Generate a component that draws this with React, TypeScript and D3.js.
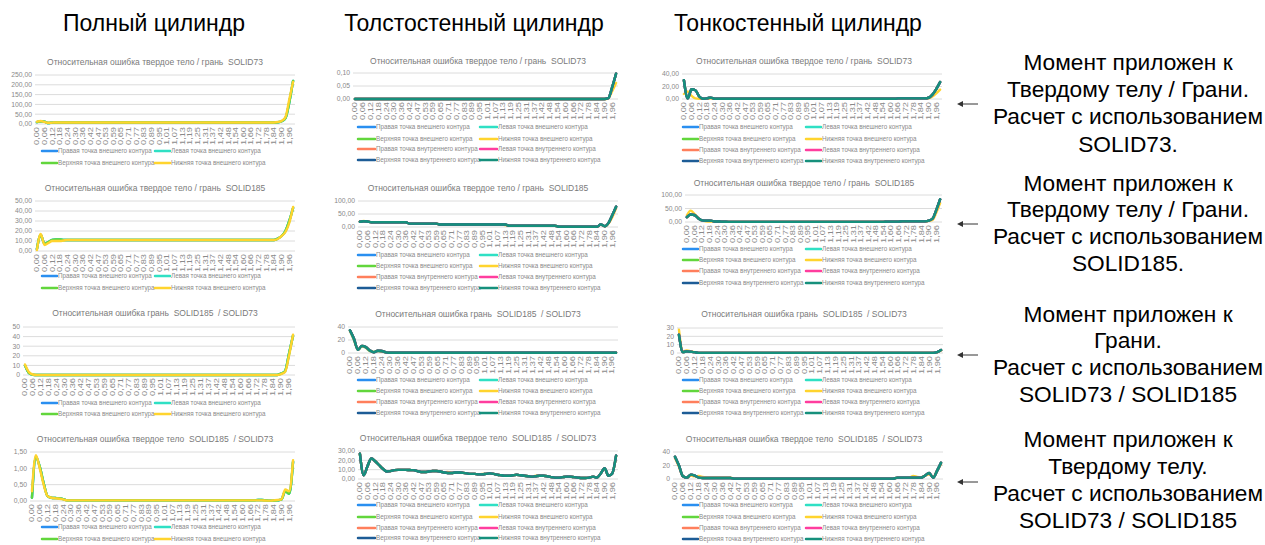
import React from 'react';
import * as d3 from 'd3';

// ---------- categories (x axis) ----------
const CATEGORIES = [
  '0,00','0,03','0,06','0,09','0,12','0,15','0,18','0,21','0,24','0,27',
  '0,30','0,33','0,36','0,39','0,42','0,45','0,47','0,50','0,53','0,56',
  '0,59','0,62','0,65','0,68','0,71','0,74','0,77','0,80','0,83','0,86',
  '0,89','0,92','0,95','0,98','1,01','1,04','1,07','1,10','1,13','1,16',
  '1,19','1,22','1,25','1,28','1,31','1,34','1,37','1,39','1,42','1,45',
  '1,48','1,51','1,54','1,57','1,60','1,63','1,66','1,69','1,72','1,75',
  '1,78','1,81','1,84','1,87','1,90','1,93','1,96','1,99',
];

// ---------- series names ----------
const OUTER_NAMES = [
  'Правая точка внешнего контура',
  'Левая точка внешнего контура',
  'Верхняя точка внешнего контура',
  'Нижняя точка внешнего контура',
];
const INNER_NAMES = [
  'Правая точка внутреннего контура',
  'Левая точка внутреннего контура',
  'Верхняя точка внутреннего контура',
  'Нижняя точка внутреннего контура',
];
const SERIES_COLORS = ['#2a8ff0', '#2fe0c4', '#62d63c', '#ffd42e', '#ff7f5c', '#ff3d9e', '#1d5c96', '#16907c'];

// ---------- column headers / notes ----------
const HEADERS = ['Полный цилиндр', 'Толстостенный цилиндр', 'Тонкостенный цилиндр'];
const NOTES = [
  ['Момент приложен к', 'Твердому телу / Грани.', 'Расчет с использованием', 'SOLID73.'],
  ['Момент приложен к', 'Твердому телу / Грани.', 'Расчет с использованием', 'SOLID185.'],
  ['Момент приложен к', 'Грани.', 'Расчет с использованием', 'SOLID73 / SOLID185'],
  ['Момент приложен к', 'Твердому телу.', 'Расчет с использованием', 'SOLID73 / SOLID185'],
];
const TITLES = [
  'Относительная ошибка твердое тело / грань  SOLID73',
  'Относительная ошибка твердое тело / грань  SOLID185',
  'Относительная ошибка грань  SOLID185  / SOLID73',
  'Относительная ошибка твердое тело  SOLID185  / SOLID73',
];

// ---------- data: full cylinder ----------
const FULL_R1_LOWER = [12,15,10,6,7,
  8,8,8,8,8,8,8,8,8,8, 8,8,8,8,8,8,8,8,8,8, 8,8,8,8,8,8,8,8,8,8,
  8,8,8,8,8,8,8,8,8,8, 8,8,8,8,8,8,8,8,8,8, 8,8,8,8,8,8,8,8,
  10,16,35,125,215];
const FULL_R1_OTHER = [10,14,12,5,7,
  8,8,8,8,8,8,8,8,8,8, 8,8,8,8,8,8,8,8,8,8, 8,8,8,8,8,8,8,8,8,8,
  8,8,8,8,8,8,8,8,8,8, 8,8,8,8,8,8,8,8,8,8, 8,8,8,8,8,8,8,8,
  9,14,30,110,220];

const FULL_R2_LOWER = [1,17,6,8,10,10,10,10.5,
  11,11,11,11,11,11,11,11,11,11, 11,11,11,11,11,11,11,11,11,11, 11,11,11,11,11,11,11,11,11,11,
  11,11,11,11,11,11,11,11,11,11, 11,11,11,11,11,11,11,11,11,11, 11,11,11,11,11,
  12,15,19,28,44];
const FULL_R2_OTHER = [2,16,7,9,11,11.5,11.5,11,
  11,11,11,11,11,11,11,11,11,11, 11,11,11,11,11,11,11,11,11,11, 11,11,11,11,11,11,11,11,11,11,
  11,11,11,11,11,11,11,11,11,11, 11,11,11,11,11,11,11,11,11,11, 11,11,11,11,11,
  12.5,15,20,30,43];

const FULL_R3_LOWER = [11,3,0.5,
  0,0,0,0,0,0,0,0,0,0, 0,0,0,0,0,0,0,0,0,0, 0,0,0,0,0,0,0,0,0,0,
  0,0,0,0,0,0,0,0,0,0, 0,0,0,0,0,0,0,0,0,0, 0,0,0,0,0,0,0,0,0,0, 0,
  1,3,20,42];
const FULL_R3_OTHER = [10,2,0.3,
  0,0,0,0,0,0,0,0,0,0, 0,0,0,0,0,0,0,0,0,0, 0,0,0,0,0,0,0,0,0,0,
  0,0,0,0,0,0,0,0,0,0, 0,0,0,0,0,0,0,0,0,0, 0,0,0,0,0,0,0,0,0,0, 0,
  1.5,4,22,41];

const FULL_R4_LOWER = [0.3,1.4,1.0,0.5,0.15,0.1,0.08,0.07,0.05,
  0.02,0.02,0.02,0.02,0.02,0.02,0.02,0.02,0.02,0.02, 0.02,0.02,0.02,0.02,0.02,0.02,0.02,0.02,0.02,0.02,
  0.02,0.02,0.02,0.02,0.02,0.02,0.02,0.02,0.02,0.02, 0.02,0.02,0.02,0.02,0.02,0.02,0.02,0.02,0.02,0.02,
  0.02,0.02,0.02,0.02,0.02,0.02,0.02,0.02,0.02,
  0.02,0.02,0.01,0.01,0.02,0.03,0.05,0.35,0.3,1.25];
const FULL_R4_OTHER = [0.1,1.35,1.05,0.55,0.15,0.1,0.09,0.08,0.06,
  0.02,0.02,0.02,0.02,0.02,0.02,0.02,0.02,0.02,0.02, 0.02,0.02,0.02,0.02,0.02,0.02,0.02,0.02,0.02,0.02,
  0.02,0.02,0.02,0.02,0.02,0.02,0.02,0.02,0.02,0.02, 0.02,0.02,0.02,0.02,0.02,0.02,0.02,0.02,0.02,0.02,
  0.02,0.02,0.02,0.02,0.02,0.02,0.02,0.02,0.02,
  0.03,0.03,0.02,0.01,0.01,0.02,0.04,0.3,0.22,1.2];

// ---------- data: thick-walled cylinder ----------
const THICK_R1_MAIN = [
  0,0,0,0,0,0,0,0,0,0, 0,0,0,0,0,0,0,0,0,0, 0,0,0,0,0,0,0,0,0,0,
  0,0,0,0,0,0,0,0,0,0, 0,0,0,0,0,0,0,0,0,0, 0,0,0,0,0,0,0,0,0,0,
  0,0,0,0,0, 0.003,0.045,0.097];
const THICK_R1_LOWER = [
  0,0,0,0,0,0,0,0,0,0, 0,0,0,0,0,0,0,0,0,0, 0,0,0,0,0,0,0,0,0,0,
  0,0,0,0,0,0,0,0,0,0, 0,0,0,0,0,0,0,0,0,0, 0,0,0,0,0,0,0,0,0,0,
  0,0,0,0,0, 0.002,0.03,0.062];

const THICK_R2_MAIN = [20,22,21,
  18,18,18,18,18,18,18,18,18,18,
  13,13,13,13,13,13,13,13,
  9.5,9.5,9.5,9.5,9.5,9.5,9.5,9.5,9.5,9.5,9.5,9.5,9.5,9.5,9.5,9.5,9.5,9.5,
  5,5,5,5,5,5,5,5,5,5,5,5,5,
  1,1,1,1,1,1,1,1,1,1,1,
  10,3,15,45,78];
const THICK_R2_LOWER = [21,23,21,
  18,18,18,18,18,18,18,18,18,18,
  13,13,13,13,13,13,13,13,
  9.5,9.5,9.5,9.5,9.5,9.5,9.5,9.5,9.5,9.5,9.5,9.5,9.5,9.5,9.5,9.5,9.5,7,
  5,5,5,5,5,5,5,5,5,5,5,5,5,
  1,1,1,1,1,1,1,1,1,1,1,
  9,3,13,38,72];

const THICK_R3_MAIN = [35,22,5,11,9,4,1,3.5,3,1,
  0.3,0.3,0.3,0.3,0.3,0.3,0.3,0.3,0.3,0.3, 0.3,0.3,0.3,0.3,0.3,0.3,0.3,0.3,0.3,0.3,
  0.3,0.3,0.3,0.3,0.3,0.3,0.3,0.3,0.3,0.3, 0.3,0.3,0.3,0.3,0.3,0.3,0.3,0.3,0.3,0.3,
  0.3,0.3,0.3,0.3,0.3,0.3,0.3,0.3,0.3,0.3, 0.3,0.3,0.3,0.3,0.3,0.3,0.3,0.3];
const THICK_R3_UPPER = [34,20,5,10,8,3,2,3,2,1,
  0.3,0.3,0.3,0.3,0.3,0.3,0.3,0.3,0.3,0.3, 0.3,0.3,0.3,0.3,0.3,0.3,0.3,0.3,0.3,0.3,
  0.3,0.3,0.3,0.3,0.3,0.3,0.3,0.3,0.3,0.3, 0.3,0.3,0.3,0.3,0.3,0.3,0.3,0.3,0.3,0.3,
  0.3,0.3,0.3,0.3,0.3,0.3,0.3,0.3,0.3,0.3, 0.3,0.3,0.3,0.3,0.3,0.3,0.3,0.3];

const THICK_R4_MAIN = [27,4,14,22,19,15,11,8,8.5,9.5,
  9.8,9.8,9.8,9.6,9.5,8.5,7.5,7.5,8,8.5,
  8.5,8,7,6.5,6.5,7,7,6.5,6,5.5,
  5.5,5,5,5.5,6,5.5,4.5,4,3.5,3.5,
  4,4.5,4,3.5,3,2.5,3,3.5,3.5,3,
  2,1.5,1.5,2,2.5,2.5,2,1.5,1,1,
  1.5,2.5,1.5,6,11.5,3.5,6,25];
const THICK_R4_LOWER = [27,4,14,22,19,15,11,8,8.5,9.5,
  9.8,9.8,9.8,9.6,9.5,8.5,7.5,7.5,8,8.5,
  8.5,8,7,7.5,6.5,7,7,6.5,6,5.5,
  5.5,5,5.5,5.5,6,5.5,4.5,4,3.5,3.5,
  4,4.5,4,3.5,3,2.5,3.5,3.5,3.5,3,
  2,1.5,1.5,2,2.5,2.5,2,1.5,1,1,
  1.5,2.5,1.5,6,11,3.5,6,24];

// ---------- data: thin-walled cylinder ----------
const THIN_R1_MAIN = [30,1,15.5,14,4,0.5,1,2.2,0.5,
  0.3,0.3,0.3,0.3,0.3,0.3,0.3,0.3,0.3,0.3, 0.3,0.3,0.3,0.3,0.3,0.3,0.3,0.3,0.3,0.3,
  0.3,0.3,0.3,0.3,0.3,0.3,0.3,0.3,0.3,0.3, 0.3,0.3,0.3,0.3,0.3,0.3,0.3,0.3,0.3,0.3,
  0.3,0.3,0.3,0.3,0.3,0.3,0.3,
  1,1,1,1,1,1,1,1,
  2,7,16,27];
const THIN_R1_LOWER = [8,12,5,1,0.5,0.5,0.5,1,0.5,
  0.3,0.3,0.3,0.3,0.3,0.3,0.3,0.3,0.3,0.3, 0.3,0.3,0.3,0.3,0.3,0.3,0.3,0.3,0.3,0.3,
  0.3,0.3,0.3,0.3,0.3,0.3,0.3,0.3,0.3,0.3, 0.3,0.3,0.3,0.3,0.3,0.3,0.3,0.3,0.3,0.3,
  0.3,0.3,0.3,0.3,0.3,0.3,0.3,
  0.8,0.8,0.8,0.8,0.8,0.8,0.8,0.8,
  1,4,9,15];

const THIN_R2_MAIN = [18,28,26,14,6,5,5,3,2,1.5,1,
  0.5,0.5,0.5,0.5,0.5,0.5,0.5,0.5,0.5,0.5, 0.5,0.5,0.5,0.5,0.5,0.5,0.5,0.5,0.5,0.5,
  0.5,0.5,0.5,0.5,0.5,0.5,0.5,0.5,0.5,0.5, 0.5,0.5,0.5,0.5,0.5,0.5,0.5,0.5,0.5,0.5,
  0.5,0.5,
  1.5,1.5,1.5,1.5,
  2.5,2.5,2.5,2.5,2.5,2.5,2.5,
  5,12,45,84];
const THIN_R2_LOWER = [25,42,30,15,5,3,2,2,1.5,1,1,
  0.5,0.5,0.5,0.5,0.5,0.5,0.5,0.5,0.5,0.5, 0.5,0.5,0.5,0.5,0.5,0.5,0.5,0.5,0.5,0.5,
  0.5,0.5,0.5,0.5,0.5,0.5,0.5,0.5,0.5,0.5, 0.5,0.5,0.5,0.5,0.5,0.5,0.5,0.5,0.5,0.5,
  0.5,0.5,
  1,1,1,1,
  2,2,2,2,2,2,2,
  4,8,35,70];

const THIN_R3_MAIN = [22,1,2,1.5,1,
  0.2,0.2,0.2,0.2,0.2,0.2,0.2,0.2,0.2,0.2, 0.2,0.2,0.2,0.2,0.2,0.2,0.2,0.2,0.2,0.2,
  0.2,0.2,0.2,0.2,0.2,0.2,0.2,0.2,0.2,0.2, 0.2,0.2,0.2,0.2,0.2,0.2,0.2,0.2,0.2,0.2,
  0.2,0.2,0.2,0.2,0.2,0.2,0.2,0.2,0.2,0.2, 0.2,0.2,0.2,0.2,0.2,0.2,0.2,0.2,0.2,0.2, 0.2,
  1,3.5];
const THIN_R3_LOWER = [28,2,3,2,1,
  0.2,0.2,0.2,0.2,0.2,0.2,0.2,0.2,0.2,0.2, 0.2,0.2,0.2,0.2,0.2,0.2,0.2,0.2,0.2,0.2,
  0.2,0.2,0.2,0.2,0.2,0.2,0.2,0.2,0.2,0.2, 0.2,0.2,0.2,0.2,0.2,0.2,0.2,0.2,0.2,0.2,
  0.2,0.2,0.2,0.2,0.2,0.2,0.2,0.2,0.2,0.2, 0.2,0.2,0.2,0.2,0.2,0.2,0.2,0.2,0.2,0.2, 0.2,
  0.8,3];

const THIN_R4_MAIN = [33,20,4,2,6.5,5,2,
  1.5,1.5,1.5,1.5,1.5,1.5,1.5,1.5,
  0.5,0.5,0.5,0.5,0.5,0.5,0.5,0.5,0.5,0.5, 0.5,0.5,0.5,0.5,0.5,0.5,0.5,0.5,0.5,0.5,
  0.5,0.5,0.5,0.5,0.5,0.5,0.5,0.5,0.5,0.5, 0.5,0.5,0.5,0.5,0.5,0.5,0.5,0.5,0.5,0.5, 0.5,
  2,2,2,2,2,2,2,
  5,9,2,12,24];
const THIN_R4_LOWER = [31,18,4,2,5,4,4.5,3,
  2,2,2,2,2,2,2,
  0.5,0.5,0.5,0.5,0.5,0.5,0.5,0.5,0.5,0.5, 0.5,0.5,0.5,0.5,0.5,0.5,0.5,0.5,0.5,0.5,
  0.5,0.5,0.5,0.5,0.5,0.5,0.5,0.5,0.5,0.5, 0.5,0.5,0.5,0.5,0.5,0.5,0.5,0.5,0.5,0.5, 0.5,
  2,2,2,2,
  4.5,3,2.5,5,7,3,12,22];

// ---------- layout ----------
const FONT = "'Liberation Sans', Arial, sans-serif";
const TEXT_GRAY = '#8a8a8a';

type Cfg = {
  title: string; titleX: number; titleY: number;
  left: number; right: number; top: number; zero: number;
  yMax: number; yStep: number; decimals: number;
  series: number[][];
  names: string[];
  legendRows: number[]; legendCols: number[]; legendLine: number;
};

const outerSeries = (other: number[], lower: number[]) => [other, other, other, lower];
const innerSeries = (main: number[], upper: number[], lower: number[]) =>
  [main, main, upper, lower, main, main, main, main];
const ALL_NAMES = [OUTER_NAMES[0], OUTER_NAMES[1], OUTER_NAMES[2], OUTER_NAMES[3], INNER_NAMES[0], INNER_NAMES[1], INNER_NAMES[2], INNER_NAMES[3]];

const CHARTS: Cfg[] = [
  // column 1
  { title: TITLES[0], titleX: 155, titleY: 62, left: 35, right: 295, top: 75, zero: 124, yMax: 250, yStep: 50, decimals: 2,
    series: outerSeries(FULL_R1_OTHER, FULL_R1_LOWER), names: OUTER_NAMES, legendRows: [151, 163], legendCols: [42, 155], legendLine: 15 },
  { title: TITLES[1], titleX: 155, titleY: 188, left: 35, right: 295, top: 201, zero: 251, yMax: 50, yStep: 10, decimals: 2,
    series: outerSeries(FULL_R2_OTHER, FULL_R2_LOWER), names: OUTER_NAMES, legendRows: [276, 288], legendCols: [42, 155], legendLine: 15 },
  { title: TITLES[2], titleX: 155, titleY: 313, left: 23, right: 295, top: 327, zero: 375, yMax: 50, yStep: 10, decimals: 0,
    series: outerSeries(FULL_R3_OTHER, FULL_R3_LOWER), names: OUTER_NAMES, legendRows: [403, 414], legendCols: [42, 155], legendLine: 15 },
  { title: TITLES[3], titleX: 155, titleY: 439, left: 30, right: 295, top: 452, zero: 501, yMax: 1.5, yStep: 0.5, decimals: 2,
    series: outerSeries(FULL_R4_OTHER, FULL_R4_LOWER), names: OUTER_NAMES, legendRows: [527, 539], legendCols: [42, 155], legendLine: 15 },
  // column 2
  { title: TITLES[0], titleX: 478, titleY: 61, left: 353, right: 618, top: 73, zero: 99, yMax: 0.1, yStep: 0.05, decimals: 2,
    series: innerSeries(THICK_R1_MAIN, THICK_R1_MAIN, THICK_R1_LOWER), names: ALL_NAMES, legendRows: [127, 139, 149, 160], legendCols: [358, 480], legendLine: 17 },
  { title: TITLES[1], titleX: 478, titleY: 188, left: 358, right: 618, top: 201, zero: 227, yMax: 100, yStep: 50, decimals: 2,
    series: innerSeries(THICK_R2_MAIN, THICK_R2_MAIN, THICK_R2_LOWER), names: ALL_NAMES, legendRows: [255, 266, 277, 288], legendCols: [358, 480], legendLine: 17 },
  { title: TITLES[2], titleX: 478, titleY: 314, left: 348, right: 618, top: 327, zero: 353, yMax: 40, yStep: 20, decimals: 0,
    series: innerSeries(THICK_R3_MAIN, THICK_R3_UPPER, THICK_R3_MAIN), names: ALL_NAMES, legendRows: [380, 391, 402, 413], legendCols: [358, 480], legendLine: 17 },
  { title: TITLES[3], titleX: 478, titleY: 438, left: 358, right: 618, top: 451, zero: 479, yMax: 30, yStep: 10, decimals: 2,
    series: innerSeries(THICK_R4_MAIN, THICK_R4_MAIN, THICK_R4_LOWER), names: ALL_NAMES, legendRows: [505, 517, 528, 538], legendCols: [358, 480], legendLine: 17 },
  // column 3
  { title: TITLES[0], titleX: 804, titleY: 61, left: 682, right: 942, top: 74, zero: 99, yMax: 40, yStep: 20, decimals: 2,
    series: innerSeries(THIN_R1_MAIN, THIN_R1_MAIN, THIN_R1_LOWER), names: ALL_NAMES, legendRows: [127, 139, 150, 161], legendCols: [683, 806], legendLine: 15 },
  { title: TITLES[1], titleX: 804, titleY: 183, left: 685, right: 942, top: 195, zero: 222, yMax: 100, yStep: 50, decimals: 2,
    series: innerSeries(THIN_R2_MAIN, THIN_R2_MAIN, THIN_R2_LOWER), names: ALL_NAMES, legendRows: [249, 260, 271, 283], legendCols: [683, 806], legendLine: 15 },
  { title: TITLES[2], titleX: 804, titleY: 314, left: 677, right: 943, top: 328, zero: 353, yMax: 30, yStep: 10, decimals: 0,
    series: innerSeries(THIN_R3_MAIN, THIN_R3_MAIN, THIN_R3_LOWER), names: ALL_NAMES, legendRows: [380, 391, 402, 413], legendCols: [683, 806], legendLine: 15 },
  { title: TITLES[3], titleX: 804, titleY: 439, left: 673, right: 943, top: 452, zero: 479, yMax: 40, yStep: 20, decimals: 0,
    series: innerSeries(THIN_R4_MAIN, THIN_R4_MAIN, THIN_R4_LOWER), names: ALL_NAMES, legendRows: [505, 517, 528, 539], legendCols: [683, 806], legendLine: 15 },
];

const HEADER_X = [154, 474, 798];
const NOTE_BASELINES = [[70, 97, 124, 152], [191, 217, 244, 271], [322, 348, 375, 402], [447, 474, 501, 528]];
const ARROW_Y = [104, 224, 355, 482];

function Chart({ cfg }: { cfg: Cfg }) {
  const x = d3.scaleBand<number>().domain(d3.range(CATEGORIES.length)).range([cfg.left, cfg.right]).padding(0);
  const y = d3.scaleLinear().domain([0, cfg.yMax]).range([cfg.zero, cfg.top]);
  const ticks = d3.range(0, cfg.yMax + cfg.yStep / 2, cfg.yStep);
  const fmt = (v: number) => v.toFixed(cfg.decimals).replace('.', ',');
  const cx = (i: number) => (x(i) as number) + x.bandwidth() / 2;
  const line = d3.line<number>().x((_, i) => cx(i)).y((v) => y(v)).curve(d3.curveMonotoneX);
  const colors = cfg.series.length === 4 ? SERIES_COLORS.slice(0, 4) : SERIES_COLORS;
  return (
    <g>
      <text x={cfg.titleX} y={cfg.titleY + 3} textAnchor="middle" fontSize={8.5} fill="#7a7a7a" fontFamily={FONT}
        style={{ whiteSpace: 'pre' }}>{cfg.title}</text>
      {ticks.map((t) => (
        <g key={t}>
          <line x1={cfg.left} x2={cfg.right} y1={y(t)} y2={y(t)} stroke="#dcdcdc" strokeWidth={1} />
          <text x={cfg.left - 3} y={y(t)} dy="0.35em" textAnchor="end" fontSize={6.8} fill={TEXT_GRAY} fontFamily={FONT}>{fmt(t)}</text>
        </g>
      ))}
      {CATEGORIES.map((c, i) => i % 2 === 0 ? (
        <text key={c} transform={`translate(${cx(i)},${cfg.zero + 3}) rotate(-90)`} dy="0.35em" textAnchor="end"
          fontSize={7} fill={TEXT_GRAY} fontFamily={FONT} textLength={18} lengthAdjust="spacingAndGlyphs">{c}</text>
      ) : null)}
      {cfg.series.map((s, k) => (
        <path key={k} d={line(s) || ''} fill="none" stroke={colors[k]} strokeWidth={2.4} strokeLinejoin="round" strokeLinecap="round" />
      ))}
      {cfg.names.map((n, k) => {
        const row = Math.floor(k / 2);
        const col = k % 2;
        const lx = cfg.legendCols[col];
        const ly = cfg.legendRows[row];
        return (
          <g key={n}>
            <line x1={lx} x2={lx + cfg.legendLine} y1={ly} y2={ly} stroke={colors[k]} strokeWidth={2.5} strokeLinecap="round" />
            <text x={lx + cfg.legendLine + 1} y={ly} dy="0.35em" fontSize={6.3} fill={TEXT_GRAY} fontFamily={FONT}>{n}</text>
          </g>
        );
      })}
    </g>
  );
}

export default function App() {
  return (
    <svg width={1265} height={545} style={{ position: 'absolute', left: 0, top: 0, background: '#fff' }}>
      <rect width={1265} height={545} fill="#fff" />
      {HEADERS.map((h, i) => (
        <text key={h} x={HEADER_X[i]} y={31} textAnchor="middle" fontSize={23} fill="#000" fontFamily={FONT}>{h}</text>
      ))}
      {CHARTS.map((c, i) => <Chart key={i} cfg={c} />)}
      {NOTES.map((lines, g) => (
        <g key={g}>
          {lines.map((l, j) => (
            <text key={j} x={1128} y={NOTE_BASELINES[g][j]} textAnchor="middle" fontSize={22.7} fill="#000" fontFamily={FONT}>{l}</text>
          ))}
          <line x1={962} x2={978} y1={ARROW_Y[g]} y2={ARROW_Y[g]} stroke="#333" strokeWidth={1} />
          <path d={`M957,${ARROW_Y[g]} L963,${ARROW_Y[g] - 3} L963,${ARROW_Y[g] + 3} Z`} fill="#333" />
        </g>
      ))}
    </svg>
  );
}
